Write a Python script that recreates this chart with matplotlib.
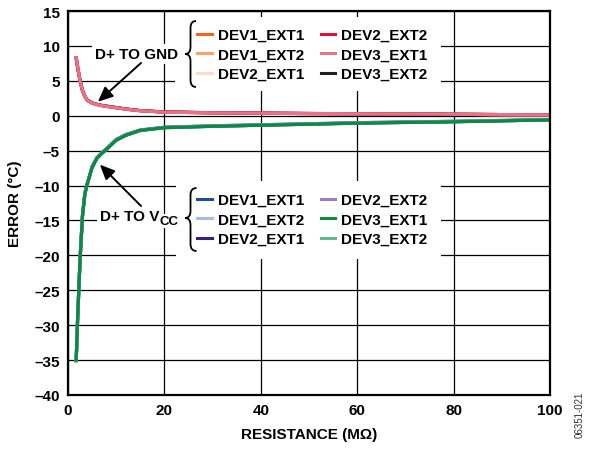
import matplotlib
matplotlib.use("Agg")
import matplotlib.pyplot as plt
from matplotlib.path import Path
from matplotlib.patches import PathPatch, Rectangle

plt.rcParams['font.family'] = ['Liberation Sans', 'DejaVu Sans']
plt.rcParams['font.weight'] = 'bold'

# ---------------- data ----------------
resistance = [1.7, 2, 2.5, 3, 3.5, 4, 5, 6, 7, 8, 10, 12, 15, 20, 30, 40, 50, 60, 70, 80, 90, 100]

gnd_labels = ["DEV1_EXT1", "DEV1_EXT2", "DEV2_EXT1", "DEV2_EXT2", "DEV3_EXT1", "DEV3_EXT2"]
gnd_colors = ["#F26522", "#F9A470", "#FDDCC8", "#D7143C", "#E8728A", "#231F20"]
gnd_dev1_ext1 = [8.2, 6.9, 5.0, 3.6, 2.8, 2.2, 1.8, 1.6, 1.45, 1.35, 1.15, 0.95, 0.72, 0.52, 0.42, 0.36, 0.31, 0.28, 0.25, 0.21, 0.16, 0.12]
gnd_dev1_ext2 = [8.3, 7.0, 5.1, 3.6, 2.8, 2.2, 1.8, 1.6, 1.45, 1.35, 1.15, 0.95, 0.72, 0.52, 0.42, 0.36, 0.31, 0.28, 0.25, 0.21, 0.16, 0.12]
gnd_dev2_ext1 = [8.2, 6.9, 5.0, 3.5, 2.7, 2.2, 1.8, 1.6, 1.45, 1.33, 1.13, 0.93, 0.70, 0.50, 0.40, 0.35, 0.30, 0.27, 0.24, 0.20, 0.15, 0.11]
gnd_dev2_ext2 = [8.3, 7.0, 5.1, 3.6, 2.8, 2.22, 1.82, 1.61, 1.46, 1.35, 1.15, 0.95, 0.72, 0.52, 0.42, 0.36, 0.31, 0.28, 0.25, 0.21, 0.16, 0.12]
gnd_dev3_ext1 = [8.3, 7.0, 5.0, 3.6, 2.8, 2.2, 1.8, 1.6, 1.45, 1.34, 1.14, 0.94, 0.71, 0.51, 0.41, 0.36, 0.31, 0.28, 0.25, 0.21, 0.16, 0.12]
gnd_dev3_ext2 = [8.2, 6.9, 5.0, 3.6, 2.8, 2.24, 1.84, 1.64, 1.49, 1.38, 1.18, 0.97, 0.74, 0.54, 0.43, 0.37, 0.32, 0.28, 0.25, 0.21, 0.16, 0.12]

vcc_labels = ["DEV1_EXT1", "DEV1_EXT2", "DEV2_EXT1", "DEV2_EXT2", "DEV3_EXT1", "DEV3_EXT2"]
vcc_colors = ["#1F4E96", "#A9BEDD", "#3D1E7A", "#9B7EC8", "#0A8A45", "#5FB98C"]
vcc_dev1_ext1 = [-35.0, -29.0, -20.5, -14.3, -11.1, -9.7, -7.3, -6.0, -5.3, -4.7, -3.4, -2.7, -2.05, -1.65, -1.45, -1.3, -1.15, -1.0, -0.9, -0.8, -0.68, -0.55]
vcc_dev1_ext2 = [-35.0, -29.0, -20.6, -14.4, -11.2, -9.8, -7.4, -6.1, -5.4, -4.8, -3.5, -2.8, -2.1, -1.7, -1.5, -1.35, -1.2, -1.05, -0.95, -0.85, -0.72, -0.58]
vcc_dev2_ext1 = [-35.1, -29.1, -20.7, -14.4, -11.2, -9.8, -7.4, -6.1, -5.4, -4.8, -3.5, -2.8, -2.1, -1.7, -1.5, -1.35, -1.2, -1.05, -0.95, -0.85, -0.72, -0.58]
vcc_dev2_ext2 = [-35.0, -29.0, -20.5, -14.3, -11.1, -9.7, -7.3, -6.0, -5.3, -4.7, -3.4, -2.7, -2.05, -1.65, -1.45, -1.3, -1.15, -1.0, -0.9, -0.8, -0.68, -0.55]
vcc_dev3_ext1 = [-35.0, -29.0, -20.6, -14.4, -11.2, -9.8, -7.4, -6.1, -5.4, -4.8, -3.5, -2.8, -2.1, -1.72, -1.52, -1.37, -1.22, -1.07, -0.97, -0.87, -0.74, -0.6]
vcc_dev3_ext2 = [-35.0, -29.0, -20.6, -14.4, -11.2, -9.8, -7.4, -6.1, -5.4, -4.8, -3.5, -2.8, -2.1, -1.7, -1.5, -1.35, -1.2, -1.05, -0.95, -0.85, -0.72, -0.58]

x_ticks = [0, 20, 40, 60, 80, 100]
y_ticks = [15, 10, 5, 0, -5, -10, -15, -20, -25, -30, -35, -40]
y_tick_labels = ["15", "10", "5", "0", "–5", "–10", "–15", "–20", "–25", "–30", "–35", "–40"]

gnd_series = [gnd_dev1_ext1, gnd_dev1_ext2, gnd_dev2_ext1, gnd_dev2_ext2, gnd_dev3_ext1, gnd_dev3_ext2]
vcc_series = [vcc_dev1_ext1, vcc_dev1_ext2, vcc_dev2_ext1, vcc_dev2_ext2, vcc_dev3_ext1, vcc_dev3_ext2]

# ---------------- figure ----------------
W, H = 592, 452
fig = plt.figure(figsize=(W / 100, H / 100), dpi=100)
ax = fig.add_axes([68 / W, 1 - 396 / H, (550 - 68) / W, (396 - 12) / H])

def fx(px):
    return px / W

def fy(py):
    return 1 - py / H

# draw order: pink / dark green end on top
gnd_order = [0, 1, 2, 5, 3, 4]
vcc_order = [0, 1, 2, 3, 5, 4]
gnd_handles = [None] * 6
vcc_handles = [None] * 6
for k, i in enumerate(vcc_order):
    h, = ax.plot(resistance, vcc_series[i], color=vcc_colors[i], lw=2.3, label=vcc_labels[i], zorder=3 + k * 0.01)
    vcc_handles[i] = h
for k, i in enumerate(gnd_order):
    h, = ax.plot(resistance, gnd_series[i], color=gnd_colors[i], lw=2.3, label=gnd_labels[i], zorder=3 + k * 0.01)
    gnd_handles[i] = h

ax.set_xlim(0, 100)
ax.set_ylim(-40, 15)
ax.set_xticks(x_ticks)
ax.set_xticklabels([str(v) for v in x_ticks])
ax.set_yticks(y_ticks)
ax.set_yticklabels(y_tick_labels)
ax.tick_params(axis='both', length=0, labelsize=11, pad=6)
for lab in ax.get_xticklabels() + ax.get_yticklabels():
    lab.set_fontweight('bold')
ax.grid(True, color='black', lw=0.9)
ax.set_axisbelow(True)
for s in ax.spines.values():
    s.set_linewidth(1.6)
    s.set_zorder(5)

ax.set_xlabel("RESISTANCE (MΩ)", fontsize=11, fontweight='bold', labelpad=7)
ax.set_ylabel("ERROR (°C)", fontsize=11, fontweight='bold', labelpad=9)

# white backgrounds for legends
for (x0, y0, x1, y1) in [(175, 18, 441, 92), (176, 182, 441, 260)]:
    ax.add_patch(Rectangle((fx(x0), fy(y1)), fx(x1) - fx(x0), fy(y0) - fy(y1),
                           transform=fig.transFigure, facecolor='white', edgecolor='none',
                           zorder=2, clip_on=False))

leg_kw = dict(ncol=2, frameon=False, fontsize=11, handlelength=0.95, handletextpad=0.4,
              columnspacing=1.1, labelspacing=0.36, borderpad=0, borderaxespad=0,
              loc='upper left', bbox_transform=fig.transFigure)
leg1 = ax.legend(handles=gnd_handles, bbox_to_anchor=(fx(197), fy(29)), **leg_kw)
for t in leg1.get_texts():
    t.set_fontweight('bold')
for l in leg1.get_lines():
    l.set_linewidth(2.2)
leg1.set_zorder(6)
ax.add_artist(leg1)
leg2 = ax.legend(handles=vcc_handles, bbox_to_anchor=(fx(197), fy(194)), **leg_kw)
for t in leg2.get_texts():
    t.set_fontweight('bold')
for l in leg2.get_lines():
    l.set_linewidth(2.2)
leg2.set_zorder(6)

# braces
def brace(xr, xm, xl, ytop, ymid, ybot, r=7):
    verts = [
        (xr, ytop), (xm, ytop), (xm, ytop + r),
        (xm, ymid - r), (xm, ymid), (xl, ymid),
        (xm, ymid), (xm, ymid + r),
        (xm, ybot - r), (xm, ybot), (xr, ybot),
    ]
    codes = [Path.MOVETO, Path.CURVE3, Path.CURVE3,
             Path.LINETO, Path.CURVE3, Path.CURVE3,
             Path.CURVE3, Path.CURVE3,
             Path.LINETO, Path.CURVE3, Path.CURVE3]
    verts = [(fx(a), fy(b)) for a, b in verts]
    ax.add_patch(PathPatch(Path(verts, codes), transform=fig.transFigure, facecolor='none',
                           edgecolor='black', lw=1.3, zorder=7, clip_on=False))

brace(196, 190.5, 185, 22, 55, 88)
brace(196.5, 190.5, 185, 189, 219, 252)

# annotations
ax.text(fx(178), fy(55), "D+ TO GND", transform=fig.transFigure, ha='right', va='center',
        fontsize=11, fontweight='bold', zorder=7,
        bbox=dict(facecolor='white', edgecolor='none', pad=2))
ax.text(fx(159), fy(217), "D+ TO V", transform=fig.transFigure, ha='right', va='center',
        fontsize=11, fontweight='bold', zorder=7,
        bbox=dict(facecolor='white', edgecolor='none', pad=2))
ax.text(fx(159), fy(222), "CC", transform=fig.transFigure, ha='left', va='center',
        fontsize=9.5, fontweight='bold', zorder=7,
        bbox=dict(facecolor='white', edgecolor='none', pad=1))

arrow = dict(arrowstyle='-|>,head_length=0.9,head_width=0.4', color='black', lw=1.4,
             shrinkA=0, shrinkB=0)
ax.annotate("", xy=(6.2, 2.0), xycoords='data', xytext=(fx(141), fy(64)),
            textcoords='figure fraction', arrowprops=arrow, zorder=8)
ax.annotate("", xy=(6.6, -7.0), xycoords='data', xytext=(fx(141), fy(207)),
            textcoords='figure fraction', arrowprops=arrow, zorder=8)

fig.text(fx(580), fy(415), "06351-021", rotation=90, ha='center', va='center',
         fontsize=7, fontweight='normal', color='#333333')

fig.savefig("out.png", dpi=100)
